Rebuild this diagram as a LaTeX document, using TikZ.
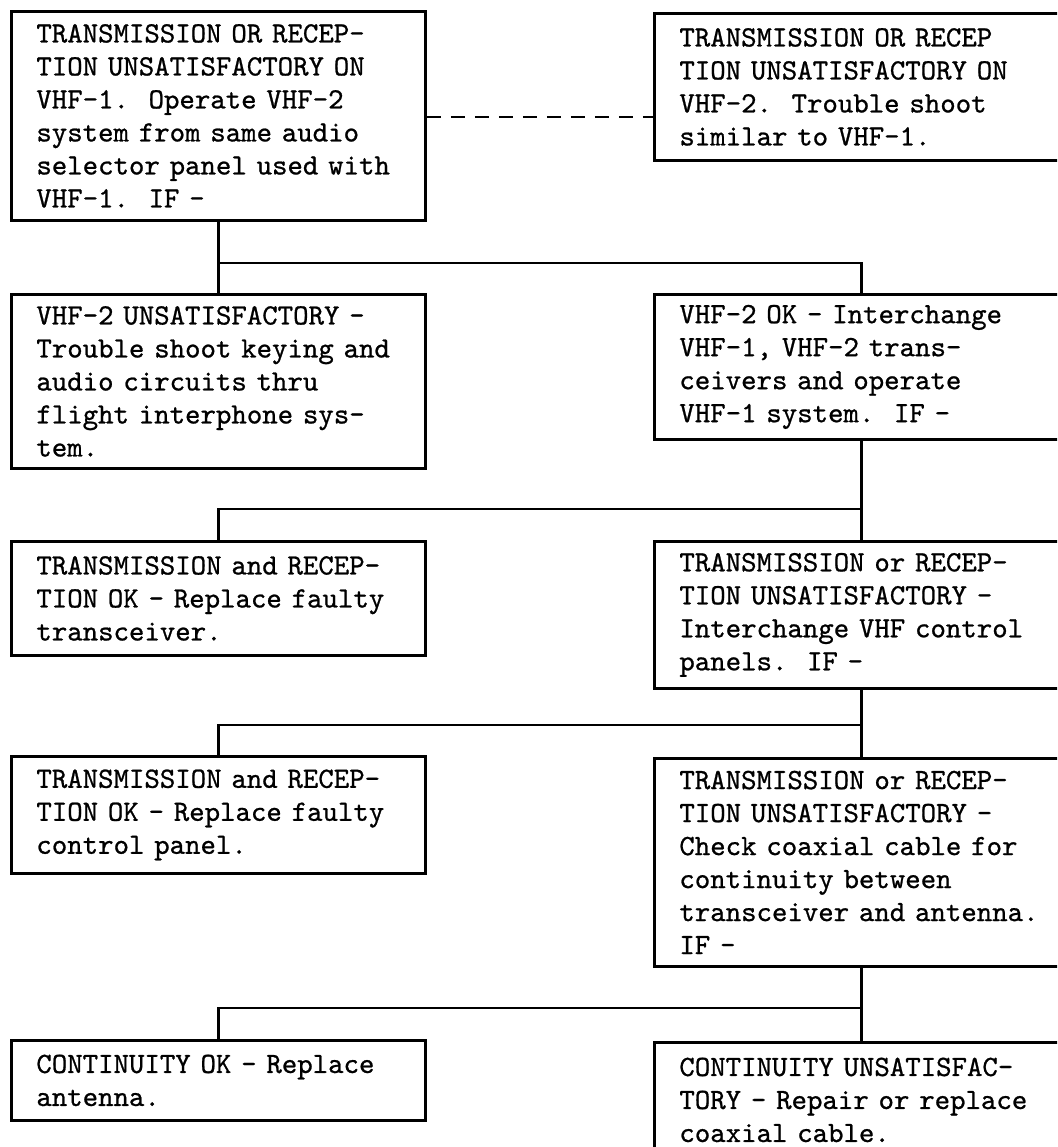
\documentclass[tikz,border=0pt]{standalone}
\usepackage{fontspec}
\newfontfamily\twfont{lmmono10-regular.otf}[FakeBold=0.8]
\tikzset{
  box/.style={draw, line width=1.4pt, rectangle, anchor=north west,
    minimum width=207pt, text width=199pt, inner xsep=4pt, inner ysep=0pt,
    align=left, font=\twfont\fontsize{14.7}{16.5}\selectfont\frenchspacing,
    execute at begin node={\leftskip=8.5pt}},
  conn/.style={line width=1.4pt},
}
\begin{document}
\begin{tikzpicture}[x=0.5pt, y=-0.5pt]
\useasboundingbox (0,0) rectangle (1057,1147);
\fill[white] (0,0) rectangle (1057,1147);
\clip (0,0) rectangle (1057,1147);

\node[box, minimum height=104.5pt] (b1) at (10,10)
  {TRANSMISSION OR RECEP-\\TION UNSATISFACTORY ON\\VHF-1.\ \ Operate VHF-2\\system from same audio\\selector panel used with\\VHF-1.\ \ IF -};
\node[box, minimum height=73.5pt] (b2) at (653,12)
  {TRANSMISSION OR RECEP\\TION UNSATISFACTORY ON\\VHF-2.\ \ Trouble shoot\\similar to VHF-1.};
\node[box, minimum height=87pt] (b3) at (10,293)
  {VHF-2 UNSATISFACTORY -\\Trouble shoot keying and\\audio circuits thru\\flight interphone sys-\\tem.};
\node[box, minimum height=72.5pt] (b4) at (653,293)
  {VHF-2 OK - Interchange\\VHF-1, VHF-2 trans-\\ceivers and operate\\VHF-1 system.\ \ IF -};
\node[box, minimum height=57pt] (b5) at (10,540)
  {TRANSMISSION and RECEP-\\TION OK - Replace faulty\\transceiver.};
\node[box, minimum height=73.5pt] (b6) at (653,540)
  {TRANSMISSION or RECEP-\\TION UNSATISFACTORY -\\Interchange VHF control\\panels.\ \ IF -};
\node[box, minimum height=58.5pt] (b7) at (10,755)
  {TRANSMISSION and RECEP-\\TION OK - Replace faulty\\control panel.};
\node[box, minimum height=104pt] (b8) at (653,757)
  {TRANSMISSION or RECEP-\\TION UNSATISFACTORY -\\Check coaxial cable for\\continuity between\\transceiver and antenna.\\IF -};
\node[box, minimum height=40pt] (b9) at (10,1039)
  {CONTINUITY OK - Replace\\antenna.};
\node[box, minimum height=57.5pt] (b10) at (653,1041)
  {CONTINUITY UNSATISFAC-\\TORY - Repair or replace\\coaxial cable.};

\coordinate (dy) at (0,117);
\coordinate (j1) at (0,263);
\coordinate (j2) at (0,509);
\coordinate (j3) at (0,725);
\coordinate (j4) at (0,1008);

\draw[conn, dash pattern=on 7pt off 5pt] (b1.east |- dy) -- (b2.west |- dy);

\draw[conn] (b1.south) -- (b3.north);
\draw[conn] (b1.south |- j1) -| (b4.north);

\draw[conn] (b4.south) -- (b6.north);
\draw[conn] (b4.south |- j2) -| (b5.north);

\draw[conn] (b6.south) -- (b8.north);
\draw[conn] (b6.south |- j3) -| (b7.north);

\draw[conn] (b8.south) -- (b10.north);
\draw[conn] (b8.south |- j4) -| (b9.north);
\end{tikzpicture}
\end{document}
